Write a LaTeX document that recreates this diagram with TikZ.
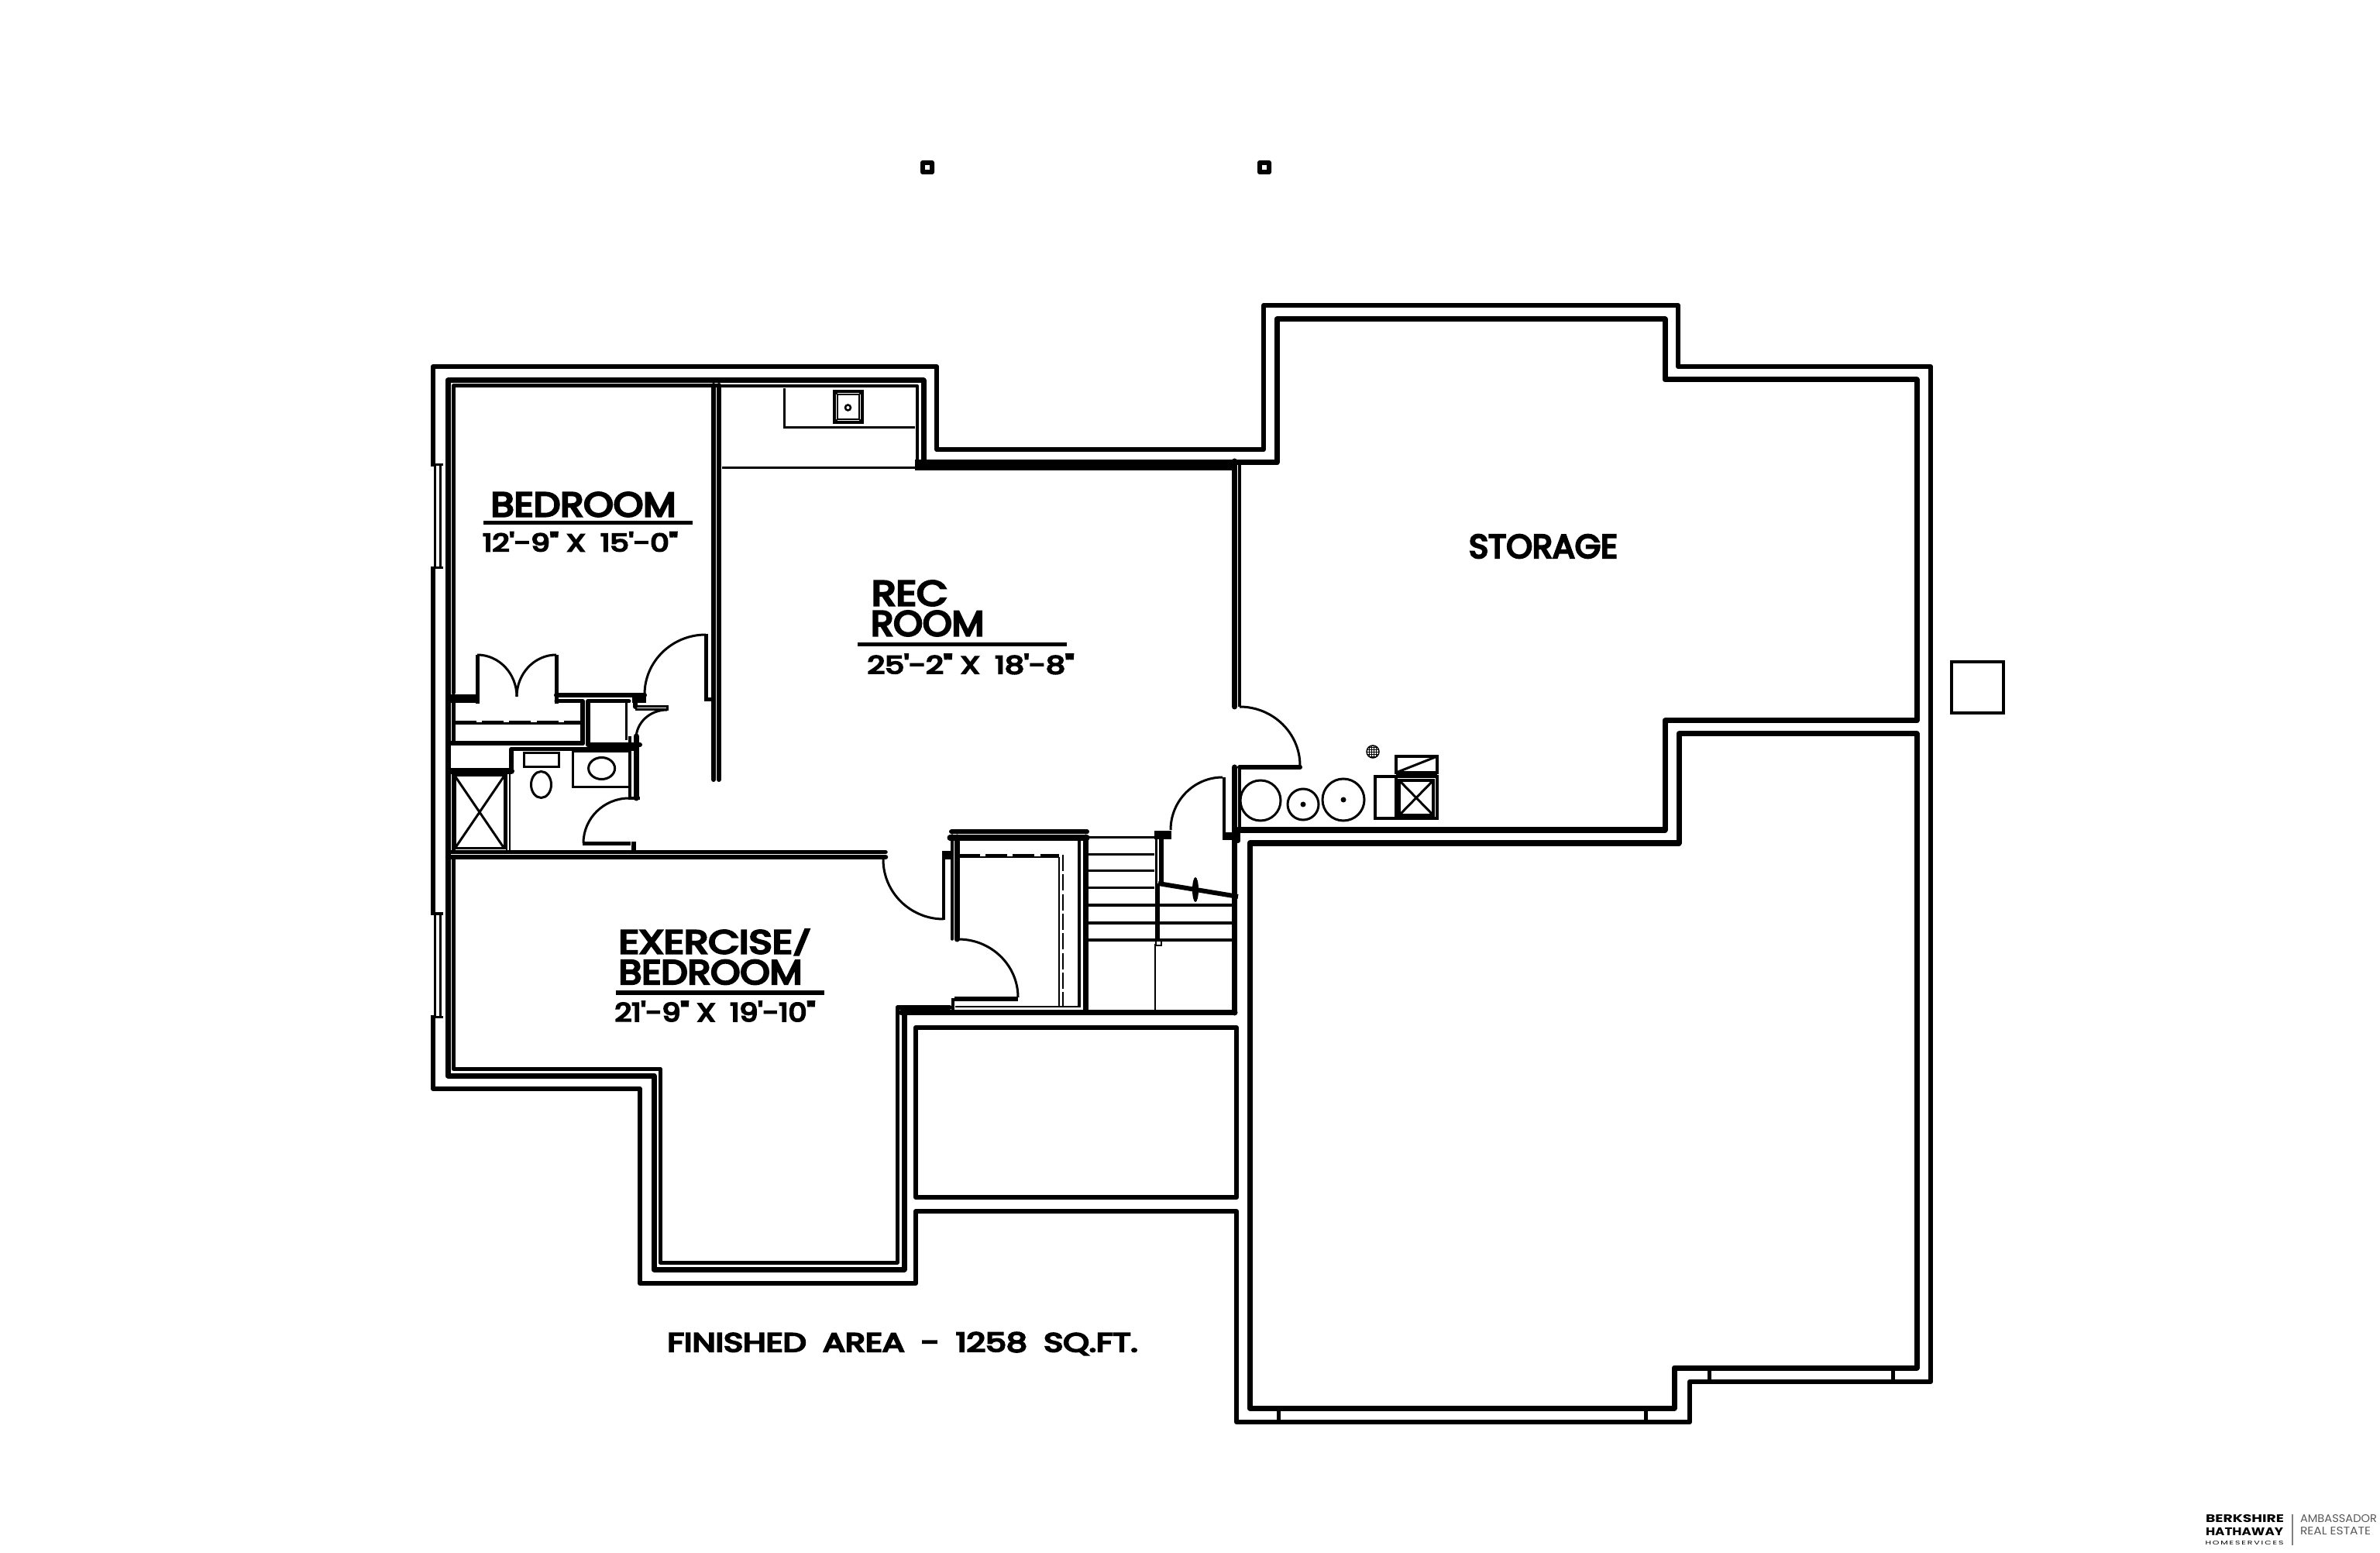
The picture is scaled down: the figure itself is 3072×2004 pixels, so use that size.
\documentclass[tikz,border=0pt]{standalone}
\usepackage{graphicx}
\usepackage{fontspec}
\setmainfont{Poppins}
\newfontfamily\cad[FakeBold=6]{Poppins}
\usetikzlibrary{calc}
\newlength\pxu \setlength\pxu{0.01cm}
\newcommand{\lbl}[6]{\node[lab] (#1) at (#2,#3) {\resizebox{#4\pxu}{#5\pxu}{\cad #6}};}
\newcommand{\slashmark}{\raisebox{0pt}[0pt][0pt]{\scalebox{1}[0.72]{\raisebox{0.9pt}{/}}}}
\newcommand{\qarc}[6]{\draw[thinl] (#1,#2) .. controls ($(#1,#2)!0.552!(#5,#6)$) and ($(#3,#4)!0.552!(#5,#6)$) .. (#3,#4);}
\tikzset{
 lw/.style={line width=#1*0.2845pt},
 wall/.style={lw=6,line join=round,line cap=round},
 thinl/.style={lw=3},
 hair/.style={lw=2},
 lab/.style={inner sep=0pt,outer sep=0pt,text=black},
 x=0.01cm,y=-0.01cm
}
\begin{document}
\begin{tikzpicture}
\useasboundingbox (0,0) rectangle (3072,2004);
\fill[white] (0,0) rectangle (3072,2004);
% marks
\fill[rounded corners=0.8pt] (1188,207) rectangle (1206,225); \fill[white] (1194,213) rectangle (1200,219);
\fill[rounded corners=0.8pt] (1623,207) rectangle (1641,225); \fill[white] (1629,213) rectangle (1635,219);
\draw[lw=4] (2519,854) rectangle (2586,920);
% outer line
\draw[wall] (559,473)--(1209,473)--(1209,580)--(1631,580)--(1631,394)--(2166,394)--(2166,473)--(2492,473)--(2492,1783)--(2181,1783)--(2181,1835)--(1596,1835)--(1596,1563)--(1182,1563)--(1182,1656)--(826,1656)--(826,1405)--(559,1405)--cycle;
% second line
\draw[wall,lw=7] (1192,491)--(1192,597)--(1648,597)--(1648,412)--(2149,412)--(2149,490)--(2474,490)--(2474,930)--(2149,930)--(2149,1071)--(1598,1071);
\draw[wall,lw=7] (1613,1088)--(2167,1088)--(2167,947)--(2474,947)--(2474,1765)--(2161,1765)--(2161,1817)--(1613,1817)--cycle;
\draw[wall,lw=7] (1192,491)--(578,491)--(578,1388)--(844,1388)--(844,1638)--(1167,1638)--(1167,1306);
% inner faces
\draw[wall,lw=5] (928,498)--(585,498)--(585,894);
\draw[wall,lw=4] (932,498)--(1184,498)--(1184,604);
\draw[wall,lw=5] (585,905)--(585,959);
\draw[wall,lw=5] (585,1109)--(585,1379)--(852,1379)--(852,1629)--(1158,1629)--(1158,1300)--(1226,1300);
% ticks
\draw[wall,lw=5] (1650,1817)--(1650,1835) (2124,1817)--(2124,1835) (2206,1765)--(2206,1783) (2443,1765)--(2443,1783);
% storage box
\draw[wall] (1182,1326) rectangle (1596,1545);
% windows
\fill[white] (553,602) rectangle (572,731);
\fill[white] (553,1181) rectangle (572,1310);
\draw[thinl] (559,600)--(572,600) (559,733)--(572,733) (561,600)--(561,733) (568,600)--(568,733);
\draw[thinl] (559,1179)--(572,1179) (559,1312)--(572,1312) (561,1179)--(561,1312) (568,1179)--(568,1312);
% kitchen
\draw[thinl] (1012,501)--(1012,552)--(1181,552);
\draw[thinl] (932,604)--(1184,604);
\draw[lw=3.5] (1077,505) rectangle (1113,545);
\draw[hair] (1081,509) rectangle (1109,541);
\draw[hair] (1077,505)--(1081,509) (1113,505)--(1109,509) (1077,545)--(1081,541) (1113,545)--(1109,541);
\draw[lw=2.5] (1094.5,526) circle (3.5);
\fill (1181,593) rectangle (1594,607);
% rec room east wall
\draw[wall,lw=7] (1593.5,595)--(1593.5,912);
\draw[lw=3.5] (1600,597)--(1600,912);
\draw[wall,lw=7] (1593.5,990)--(1593.5,1307);
\draw[lw=3.5] (1600,990)--(1600,1072);
\draw[wall,lw=6] (1598,1071)--(1598,1085);
\fill (1578,1074) rectangle (1598,1084);
\draw[wall,lw=7] (1594,1306.5)--(1163,1306.5);
% storage door
\draw[wall,lw=6] (1600,990)--(1678,990);
\qarc{1600}{912}{1678}{988}{1678}{912}
% bedroom east wall
\draw[wall] (921,497)--(921,1006);
\draw[wall] (928,497)--(928,1006);
\draw[lw=5] (911,818)--(911,900);
\draw[lw=5] (909,903)--(921,903);
\qarc{911}{819}{832}{896}{832}{819}
% bedroom south wall & closet doors
\draw[wall] (578,899)--(616,899);
\draw[wall,lw=5] (578,905)--(616,905);
\draw[lw=5] (616,845)--(616,908);
\draw[lw=5] (718,845)--(718,908);
\draw[wall,lw=6] (718,897)--(832,897);
\draw[wall,lw=5] (718,905)--(752,905) (759,905)--(812,905);
\qarc{616}{845}{667}{899}{667}{845}
\qarc{718}{845}{667}{899}{667}{845}
% closet
\draw[lw=3] (587,934)--(750,934);
\draw[lw=5,dash pattern=on 8pt off 2pt] (587,933)--(750,933);
\draw[wall,lw=6] (578,959)--(752,959);
\draw[wall,lw=6] (752,905)--(752,959);
\draw[wall,lw=6] (759,905)--(759,961)--(826,961);
\draw[thinl] (808,905)--(808,955);
\draw[wall,lw=6] (820,897)--(820,912);
\fill (816,897) rectangle (834,907);
\draw[thinl] (820,912)--(861,912)--(861,916)--(820,916);
\qarc{861}{916}{821}{953}{821}{916}
% bath
\draw[wall,lw=7] (821,950)--(821,1030);
\draw[lw=3.5] (813,950)--(813,1030)--(826,1030);
\draw[wall,lw=5] (660,967)--(821,967);
\draw[wall,lw=6] (660,967)--(660,995);
\draw[wall,lw=8] (580,995)--(660,995);
\draw[lw=2.5] (654,995)--(654,1097);
\draw[lw=2.5] (658,995)--(658,1097);
\draw[lw=5] (585,997)--(585,1097);
\draw[thinl] (587,1001) rectangle (651,1095);
\draw[thinl] (587,1001)--(651,1095) (651,1001)--(587,1095);
\draw[lw=3] (676,972) rectangle (721,990);
\draw[thinl] (698.5,1012.5) ellipse [x radius=13,y radius=17];
\draw[thinl] (739.5,970) rectangle (812,1016);
\draw[thinl] (776.6,991.5) ellipse [x radius=17,y radius=14];
\draw[lw=5] (752,1089)--(814,1089);
\draw[lw=6] (818,1086)--(818,1101);
\qarc{812}{1030}{753}{1088}{753}{1030}
% hall wall
\draw[wall,lw=5.5] (578,1099.5)--(1143,1099.5);
\draw[wall,lw=6.5] (578,1106)--(1143,1106);
% exercise door
\draw[lw=3.5] (1218,1098)--(1218,1187);
\fill (1216,1098) rectangle (1230,1109);
\qarc{1140}{1109}{1218}{1186}{1140}{1186}
% under stair closet
\draw[wall,lw=6] (1228,1073.5)--(1403,1073.5);
\draw[wall,lw=7] (1226,1081)--(1403,1081);
\draw[wall,lw=3.5] (1229,1078)--(1229,1212);
\draw[wall,lw=7] (1235,1080)--(1235,1212);
\draw[hair] (1237,1106)--(1367,1106);
\draw[lw=5,dash pattern=on 8pt off 2pt] (1237,1105)--(1367,1105);
\draw[hair] (1367,1106)--(1367,1298);
\draw[hair,dash pattern=on 6pt off 1.2pt] (1372,1103)--(1372,1298);
\draw[hair] (1233,1299)--(1392,1299);
\draw[lw=4] (1393,1080)--(1393,1300);
\draw[wall,lw=7] (1401,1080)--(1401,1306);
\draw[lw=5.5] (1232,1289)--(1314,1289);
\draw[lw=4] (1230,1288)--(1230,1303);
\qarc{1237}{1212}{1314}{1287}{1314}{1212}
% stairs
\draw[thinl] (1404,1081)--(1490,1081) (1404,1103)--(1490,1103) (1404,1124)--(1490,1124) (1404,1146)--(1490,1146);
\draw[thinl] (1404,1168)--(1590,1168) (1404,1191)--(1590,1191) (1404,1213)--(1590,1213);
\draw[hair] (1491,1218)--(1491,1303);
\draw[lw=1.5] (1492,1213) rectangle (1499,1220);
\draw[lw=3] (1492,1078)--(1492,1143);
\draw[lw=6] (1499,1078)--(1499,1143);
\draw[lw=6] (1494,1140)--(1494,1213);
\fill (1490,1072) rectangle (1512,1083);
\draw[lw=4.5] (1580,1003)--(1580,1074);
\qarc{1511}{1071}{1578}{1003}{1511}{1003}
\draw[lw=6] (1495,1140)--(1598,1157);
\fill (1543,1148) ellipse [x radius=4,y radius=16];
% equipment
\draw[thinl] (1627,1033) circle (26);
\draw[thinl] (1682,1038) circle (20);
\fill (1682,1038) circle (3.5);
\draw[thinl] (1734,1032) circle (27);
\fill (1734,1032) circle (3.5);
\begin{scope}
\clip (1772,970) circle (8);
\foreach \i in {-8,-5,...,8} {\draw[lw=1] (1772+\i,960)--(1772+\i,980); \draw[lw=1] (1760,970+\i)--(1784,970+\i);}
\end{scope}
\draw[lw=1.5] (1772,970) circle (8);
\draw[lw=3.5] (1775,1002) rectangle (1802,1056);
\draw[lw=3.5] (1802,1002) rectangle (1855,1056);
\draw[hair] (1802,999)--(1855,999);
\draw[lw=3.5] (1802,976) rectangle (1855,997);
\draw[lw=3] (1802,997)--(1855,976);
\draw[lw=4] (1806,1007) rectangle (1850,1052);
\draw[thinl] (1806,1007)--(1850,1052) (1850,1007)--(1806,1052);
% text
\lbl{bedA}{753}{651}{239}{31}{BEDROOM}
\draw[lw=5] (624,674.5)--(894,674.5);
\lbl{bedB}{749}{699}{252}{25}{12'-9" X\enspace 15'-0"}
\lbl{recA}{1174}{765.5}{98}{32}{REC}
\lbl{recB}{1197}{804.5}{146}{32}{ROOM}
\draw[lw=5] (1107,832)--(1377,832);
\lbl{recC}{1253}{857}{267}{25}{25'-2" X\enspace 18'-8"}
\lbl{stor}{1992}{705}{192}{30}{STORAGE}
\lbl{exA}{923}{1215.5}{249}{30}{EXERCISE\slashmark}
\lbl{exB}{917}{1254.5}{237}{31}{BEDROOM}
\draw[lw=5] (795,1281)--(1064,1281);
\lbl{exC}{923}{1305}{259}{26}{21'-9" X\enspace 19'-10"}
\lbl{area}{1165}{1732}{607}{25}{FINISHED\enspace AREA\enspace -\enspace 1258\enspace S\smash{Q}.FT.}
% logo
\node[lab] (lgA) at (2897.5,1960) {\resizebox{101\pxu}{10\pxu}{\bfseries BERKSHIRE}};
\node[lab] (lgB) at (2897,1976) {\resizebox{100\pxu}{10\pxu}{\bfseries HATHAWAY}};
\node[lab] (lgC) at (2897,1991) {\resizebox{101\pxu}{5\pxu}{H\,O\,M\,E\,S\,E\,R\,V\,I\,C\,E\,S}};
\draw[gray,lw=1.5] (2959,1954)--(2959,1994);
\node[lab,text=black!65] (lgD) at (3018.5,1960) {\resizebox{99\pxu}{10\pxu}{AMBASSADOR}};
\node[lab,text=black!65] (lgE) at (3014.5,1976) {\resizebox{91\pxu}{10\pxu}{REAL ESTATE}};
\end{tikzpicture}
\end{document}
